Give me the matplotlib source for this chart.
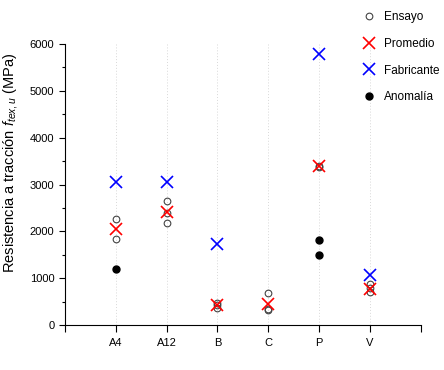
import numpy as np
import matplotlib.pyplot as plt

plt.rcParams['font.family'] = ['Liberation Sans', 'DejaVu Sans']
plt.rcParams['mathtext.fontset'] = 'custom'
plt.rcParams['mathtext.it'] = 'Liberation Sans:italic'
plt.rcParams['mathtext.rm'] = 'Liberation Sans'

categories = ['A4', 'A12', 'B', 'C', 'P', 'V']

# Ensayo (individual tests)
ens_x = ['A4', 'A4', 'A12', 'A12', 'A12', 'B', 'B', 'B', 'C', 'C', 'C',
         'P', 'P', 'V', 'V', 'V']
ens_y = [2262, 1833, 2640, 2400, 2169, 480, 420, 360, 692, 340, 314,
         3400, 3380, 880, 780, 700]

# Promedio
prom_y = [2040, 2404, 435, 449, 3385, 775]

# Fabricante
fab_x = ['A4', 'A12', 'B', 'P', 'V']
fab_y = [3061, 3061, 1727, 5786, 1063]

# Anomalia
anom_x = ['A4', 'P', 'P']
anom_y = [1191, 1812, 1505]

pos = {c: i + 1 for i, c in enumerate(categories)}

fig = plt.figure(figsize=(4.44, 3.70), dpi=100)
ax = fig.add_axes([0.146, 0.1216, 0.802, 0.7594])

for i in range(len(categories)):
    ax.axvline(i + 1, color='#d8d8d8', lw=0.7, ls=(0, (1, 2)), zorder=0)

ax.plot([pos[c] for c in ens_x], ens_y, 'o', ms=4.8, mfc='none', mec='#444444',
        mew=0.8, label='Ensayo')
ax.plot([pos[c] for c in categories], prom_y, 'x', ms=9, mew=1.2,
        color='red', label='Promedio')
ax.plot([pos[c] for c in fab_x], fab_y, 'x', ms=9, mew=1.2,
        color='blue', label='Fabricante')
ax.plot([pos[c] for c in anom_x], anom_y, 'o', ms=5, color='black',
        label='Anomalía')

ax.set_xlim(0, 7)
ax.set_ylim(0, 6000)
ax.set_xticks(range(0, 8))
ax.set_xticklabels([''] + categories + [''], fontsize=8)
ax.set_yticks(range(0, 6001, 1000))
ax.set_yticks(range(500, 6000, 1000), minor=True)
ax.tick_params(axis='y', labelsize=8, direction='out', length=4, width=0.8)
ax.tick_params(axis='y', which='minor', length=2.5, width=0.8)
ax.tick_params(axis='x', direction='out', length=5, width=0.8, pad=4)

for s in ['top', 'right']:
    ax.spines[s].set_visible(False)
ax.spines['left'].set_linewidth(0.8)
ax.spines['bottom'].set_linewidth(0.8)

ax.set_ylabel('Resistencia a tracción $\\mathit{f}_{\\mathit{tex,u}}$ (MPa)',
              fontsize=10.5)
ax.yaxis.set_label_coords(-0.125, 0.577)

fig.legend(loc='upper left', bbox_to_anchor=(0.811, 0.97), frameon=False,
           fontsize=8.5, handlelength=1.5, handletextpad=0.5,
           labelspacing=1.25, borderpad=0, borderaxespad=0, numpoints=1)

fig.savefig('out.png', dpi=100)
